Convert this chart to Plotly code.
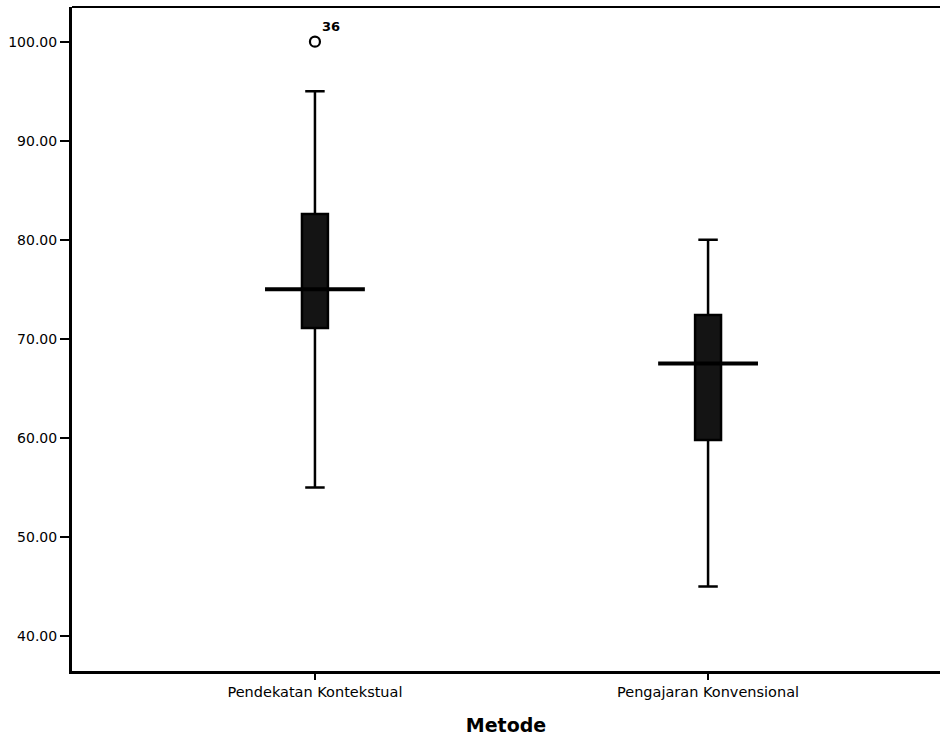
import plotly.graph_objects as go

# Data
categories = ["Pendekatan Kontekstual", "Pengajaran Konvensional"]
q1_vals = [71.1, 59.8]
median_vals = [75.0, 67.5]
q3_vals = [82.6, 72.4]
lower_whisker = [55.0, 45.0]
upper_whisker = [95.0, 80.0]
outlier_group = [0]
outlier_vals = [100.0]
outlier_labels = ["36"]

y_ticks = [40, 50, 60, 70, 80, 90, 100]
y_tick_text = ["40.00", "50.00", "60.00", "70.00", "80.00", "90.00", "100.00"]

positions = list(range(len(categories)))

fig = go.Figure()

fig.add_trace(go.Box(
    x=positions,
    q1=q1_vals,
    median=median_vals,
    q3=q3_vals,
    lowerfence=lower_whisker,
    upperfence=upper_whisker,
    width=0.066,
    whiskerwidth=0.75,
    fillcolor="#141414",
    line=dict(color="#000000", width=2.5),
    boxpoints=False,
    showlegend=False,
    hoverinfo="skip",
))

# Extended median bars (SPSS style)
half = 0.127
for p, m in zip(positions, median_vals):
    fig.add_trace(go.Scatter(
        x=[p - half, p + half], y=[m, m],
        mode="lines",
        line=dict(color="#000000", width=4),
        showlegend=False, hoverinfo="skip",
    ))

# Outlier
fig.add_trace(go.Scatter(
    x=[positions[g] for g in outlier_group],
    y=outlier_vals,
    mode="markers",
    marker=dict(symbol="circle-open", size=10, color="#000000", line=dict(width=2.2)),
    showlegend=False, hoverinfo="skip",
))
for g, v, lab in zip(outlier_group, outlier_vals, outlier_labels):
    fig.add_annotation(
        x=positions[g], y=v, text="<b>" + lab + "</b>",
        showarrow=False, xshift=16, yshift=15,
        font=dict(family="DejaVu Sans, sans-serif", size=13, color="#000000"),
    )

# top frame line of the plot area
fig.add_shape(type="line", xref="paper", yref="paper", x0=0, x1=1, y0=1, y1=1,
              line=dict(color="#000000", width=2))

fig.update_layout(
    width=940, height=741,
    margin=dict(l=72, r=0, t=7, b=70),
    paper_bgcolor="#ffffff",
    plot_bgcolor="#ffffff",
    font=dict(family="DejaVu Sans, sans-serif", color="#000000"),
    xaxis=dict(
        range=[-0.618, 1.590],
        tickmode="array",
        tickvals=positions,
        ticktext=categories,
        ticks="outside", ticklen=6, tickwidth=2, tickcolor="#000000",
        tickfont=dict(size=14.5, color="#000000"),
        showgrid=False, zeroline=False,
        showline=True, linecolor="#000000", linewidth=2.5, mirror=False,
        title=dict(text="<b>Metode</b>", font=dict(size=19, color="#000000"), standoff=20),
    ),
    yaxis=dict(
        range=[36.47, 103.5],
        tickmode="array",
        tickvals=y_ticks,
        ticktext=y_tick_text,
        ticks="outside", ticklen=9, tickwidth=2, tickcolor="#000000",
        tickfont=dict(size=14, color="#000000"),
        showgrid=False, zeroline=False,
        showline=True, linecolor="#000000", linewidth=3, mirror=False,
    ),
)

fig.write_html(
    "out.html",
    config={"displayModeBar": False},
    post_script="document.body.style.margin='0';document.body.style.overflow='hidden';",
)
